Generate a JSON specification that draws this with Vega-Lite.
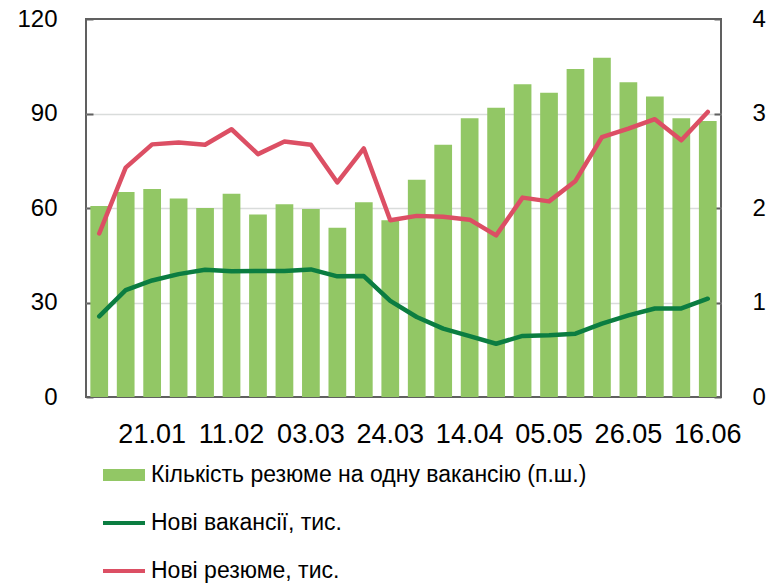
{
  "$schema": "https://vega.github.io/schema/vega-lite/v6.json",
  "width": 635,
  "height": 378,
  "autosize": {"type": "none"},
  "padding": {"left": 86, "top": 19, "right": 45, "bottom": 187},
  "config": {
    "font": "Liberation Sans",
    "view": {"stroke": "#606060", "strokeWidth": 2},
    "axis": {"labelColor": "#000000", "labelFont": "Liberation Sans", "titleColor": "#000000"},
    "legend": {
      "title": null, "orient": "none", "legendX": 17, "legendY": 435,
      "direction": "vertical", "labelFontSize": 23, "labelColor": "#000000", "labelLimit": 700,
      "labelFont": "Liberation Sans", "labelOffset": 6, "rowPadding": 15, "symbolSize": 1764
    }
  },
  "datasets": {
    "bars": [
      {"date": "07.01", "ratio": 2.02}, {"date": "14.01", "ratio": 2.17}, {"date": "21.01", "ratio": 2.20},
      {"date": "28.01", "ratio": 2.10}, {"date": "04.02", "ratio": 2.00}, {"date": "11.02", "ratio": 2.15},
      {"date": "18.02", "ratio": 1.93}, {"date": "25.02", "ratio": 2.04}, {"date": "03.03", "ratio": 1.99},
      {"date": "10.03", "ratio": 1.79}, {"date": "17.03", "ratio": 2.06}, {"date": "24.03", "ratio": 1.87},
      {"date": "31.03", "ratio": 2.30}, {"date": "07.04", "ratio": 2.67}, {"date": "14.04", "ratio": 2.95},
      {"date": "21.04", "ratio": 3.06}, {"date": "28.04", "ratio": 3.31}, {"date": "05.05", "ratio": 3.22},
      {"date": "12.05", "ratio": 3.47}, {"date": "19.05", "ratio": 3.59}, {"date": "26.05", "ratio": 3.33},
      {"date": "02.06", "ratio": 3.18}, {"date": "09.06", "ratio": 2.95}, {"date": "16.06", "ratio": 2.92}
    ],
    "lines": [
      {"date": "07.01", "series": "Нові вакансії, тис.", "value": 25.6},
      {"date": "14.01", "series": "Нові вакансії, тис.", "value": 33.9},
      {"date": "21.01", "series": "Нові вакансії, тис.", "value": 37.0},
      {"date": "28.01", "series": "Нові вакансії, тис.", "value": 39.0},
      {"date": "04.02", "series": "Нові вакансії, тис.", "value": 40.4},
      {"date": "11.02", "series": "Нові вакансії, тис.", "value": 39.9},
      {"date": "18.02", "series": "Нові вакансії, тис.", "value": 40.0},
      {"date": "25.02", "series": "Нові вакансії, тис.", "value": 40.0},
      {"date": "03.03", "series": "Нові вакансії, тис.", "value": 40.5},
      {"date": "10.03", "series": "Нові вакансії, тис.", "value": 38.3},
      {"date": "17.03", "series": "Нові вакансії, тис.", "value": 38.4},
      {"date": "24.03", "series": "Нові вакансії, тис.", "value": 30.5},
      {"date": "31.03", "series": "Нові вакансії, тис.", "value": 25.4},
      {"date": "07.04", "series": "Нові вакансії, тис.", "value": 21.7},
      {"date": "14.04", "series": "Нові вакансії, тис.", "value": 19.3},
      {"date": "21.04", "series": "Нові вакансії, тис.", "value": 16.9},
      {"date": "28.04", "series": "Нові вакансії, тис.", "value": 19.4},
      {"date": "05.05", "series": "Нові вакансії, тис.", "value": 19.6},
      {"date": "12.05", "series": "Нові вакансії, тис.", "value": 20.1},
      {"date": "19.05", "series": "Нові вакансії, тис.", "value": 23.3},
      {"date": "26.05", "series": "Нові вакансії, тис.", "value": 25.9},
      {"date": "02.06", "series": "Нові вакансії, тис.", "value": 28.1},
      {"date": "09.06", "series": "Нові вакансії, тис.", "value": 28.1},
      {"date": "16.06", "series": "Нові вакансії, тис.", "value": 31.2},
      {"date": "07.01", "series": "Нові резюме, тис.", "value": 51.9},
      {"date": "14.01", "series": "Нові резюме, тис.", "value": 72.8},
      {"date": "21.01", "series": "Нові резюме, тис.", "value": 80.2},
      {"date": "28.01", "series": "Нові резюме, тис.", "value": 80.8},
      {"date": "04.02", "series": "Нові резюме, тис.", "value": 80.1},
      {"date": "11.02", "series": "Нові резюме, тис.", "value": 85.0},
      {"date": "18.02", "series": "Нові резюме, тис.", "value": 77.1},
      {"date": "25.02", "series": "Нові резюме, тис.", "value": 81.1},
      {"date": "03.03", "series": "Нові резюме, тис.", "value": 80.1},
      {"date": "10.03", "series": "Нові резюме, тис.", "value": 68.1},
      {"date": "17.03", "series": "Нові резюме, тис.", "value": 78.9},
      {"date": "24.03", "series": "Нові резюме, тис.", "value": 56.1},
      {"date": "31.03", "series": "Нові резюме, тис.", "value": 57.5},
      {"date": "07.04", "series": "Нові резюме, тис.", "value": 57.2},
      {"date": "14.04", "series": "Нові резюме, тис.", "value": 56.3},
      {"date": "21.04", "series": "Нові резюме, тис.", "value": 51.3},
      {"date": "28.04", "series": "Нові резюме, тис.", "value": 63.3},
      {"date": "05.05", "series": "Нові резюме, тис.", "value": 62.1},
      {"date": "12.05", "series": "Нові резюме, тис.", "value": 68.6},
      {"date": "19.05", "series": "Нові резюме, тис.", "value": 82.5},
      {"date": "26.05", "series": "Нові резюме, тис.", "value": 85.2},
      {"date": "02.06", "series": "Нові резюме, тис.", "value": 88.2},
      {"date": "09.06", "series": "Нові резюме, тис.", "value": 81.5},
      {"date": "16.06", "series": "Нові резюме, тис.", "value": 90.5}
    ]
  },
  "layer": [
    {
      "data": {"name": "bars"},
      "mark": {"type": "bar"},
      "encoding": {
        "x": {
          "field": "date", "type": "ordinal", "sort": null,
          "scale": {"paddingInner": 0.33, "paddingOuter": 0.165},
          "axis": {
            "title": null, "ticks": false, "domain": false, "labelAngle": 0,
            "labelFontSize": 27, "labelPadding": 24, "labelOverlap": false,
            "labelExpr": "indexof(['21.01','11.02','03.03','24.03','14.04','05.05','26.05','16.06'], datum.value) >= 0 ? datum.value : ''"
          }
        },
        "y": {
          "field": "ratio", "type": "quantitative",
          "scale": {"domain": [0, 4], "nice": false},
          "axis": {
            "orient": "right", "title": null, "values": [0, 1, 2, 3, 4],
            "grid": false, "domain": false, "tickSize": -7, "tickColor": "#606060", "tickWidth": 2,
            "labelFontSize": 24, "labelPadding": 38
          }
        },
        "color": {
          "datum": "Кількість резюме на одну вакансію (п.ш.)",
          "type": "nominal",
          "scale": {
            "domain": ["Кількість резюме на одну вакансію (п.ш.)", "Нові вакансії, тис.", "Нові резюме, тис."],
            "range": ["#92C765", "#0B7D41", "#DC4F64"]
          },
          "legend": {
            "title": null,
            "encode": {
              "symbols": {
                "update": {
                  "shape": {"signal": "datum.value == 'Кількість резюме на одну вакансію (п.ш.)' ? 'M-1,-0.28H1V0.28H-1Z' : 'M-1,-0.09H1V0.09H-1Z'"},
                  "fill": {"scale": "color", "field": "value"},
                  "stroke": {"value": "transparent"},
                  "strokeWidth": {"value": 0},
                  "opacity": {"value": 1}
                }
              }
            }
          }
        }
      }
    },
    {
      "data": {"name": "lines"},
      "mark": {"type": "line", "strokeWidth": 4.5, "strokeJoin": "round", "strokeCap": "round"},
      "encoding": {
        "x": {"field": "date", "type": "ordinal", "sort": null},
        "y": {
          "field": "value", "type": "quantitative",
          "scale": {"domain": [0, 120], "nice": false},
          "axis": {
            "orient": "left", "title": null, "values": [0, 30, 60, 90, 120],
            "domain": false, "tickSize": -7, "tickColor": "#606060", "tickWidth": 2,
            "grid": true, "gridColor": {"condition": {"test": "datum.value == 0 || datum.value == 120", "value": "transparent"}, "value": "#D9DCDB"},
            "gridWidth": 1.5,
            "labelFontSize": 24, "labelPadding": 36
          }
        },
        "color": {"field": "series", "type": "nominal", "legend": {"title": null}}
      }
    }
  ],
  "resolve": {"scale": {"y": "independent"}}
}
